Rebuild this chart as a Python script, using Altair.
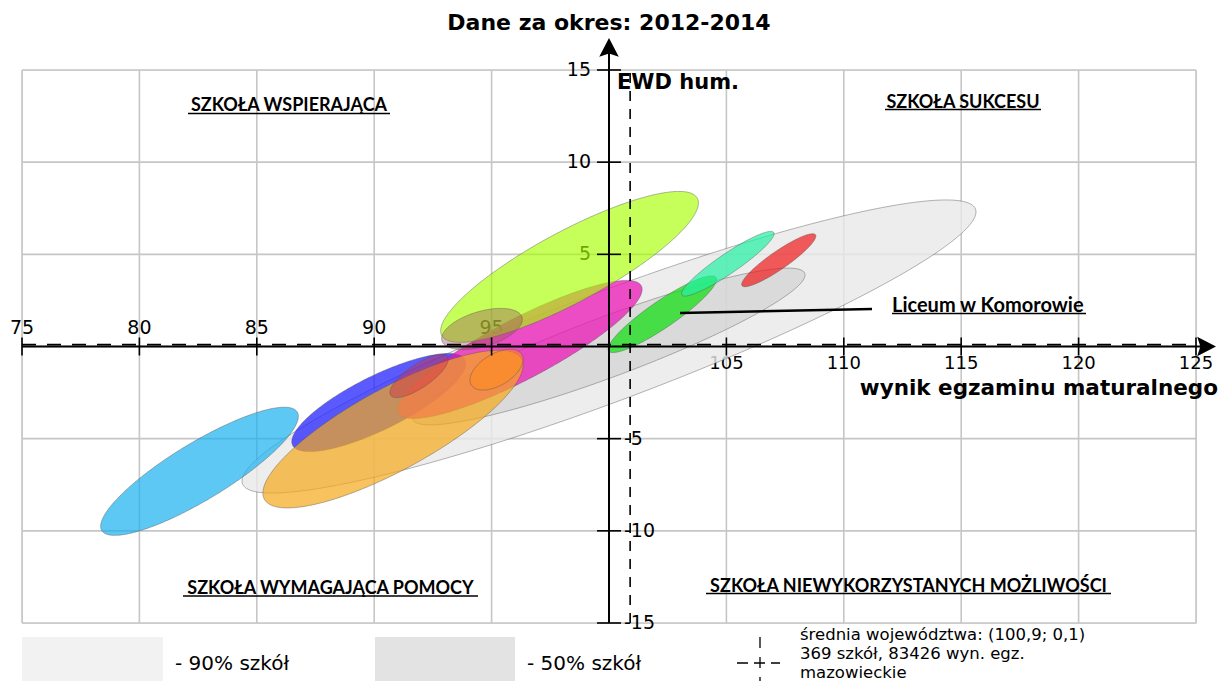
import numpy as np
import pandas as pd
import altair as alt

# ---------------- data ----------------
x_grid = [75, 80, 85, 90, 95, 100, 105, 110, 115, 120, 125]
y_grid = [-15, -10, -5, 0, 5, 10, 15]
x_labels_above = [75, 80, 85, 90, 95]
x_labels_below = [105, 110, 115, 120, 125]
y_labels_pos = [5, 10, 15]
y_labels_neg = [-5, -10, -15]
mean_x = 100.9
mean_y = 0.1

# ellipses: centre (cx, cy), half extent along x (hx),
# y offset of the right-most point (ky), vertical half thickness at centre (my)
ell_names = ["90% szkół", "50% szkół", "szkoła 1", "szkoła 2", "szkoła 3", "szkoła 4",
             "szkoła 5", "szkoła 6", "szkoła 7", "szkoła 8", "Liceum w Komorowie",
             "szkoła 9", "szkoła 10"]
ell_cx = [100.0, 100.0, 82.56, 90.20, 96.21, 90.80, 98.32, 94.59, 95.21, 91.91, 102.27, 105.06, 107.23]
ell_cy = [0.0, 0.0, -6.77, -3.04, -0.16, -4.48, 4.32, 0.95, -1.26, -1.60, 1.75, 4.49, 4.68]
ell_hx = [15.63, 8.35, 4.21, 3.71, 5.20, 5.54, 5.49, 1.72, 1.13, 1.24, 2.31, 1.97, 1.58]
ell_ky = [7.30, 3.88, 2.98, 2.12, 3.26, 3.47, 3.47, 0.52, 0.56, 0.90, 1.89, 1.63, 1.31]
ell_my = [3.15, 1.74, 1.79, 1.61, 1.84, 2.50, 2.17, 0.99, 0.95, 0.75, 0.87, 0.65, 0.59]

# styles
ell_fill = ["#e8e8e8", "#c8c8c8", "#1ab0f1", "#2323ff", "#eb16b6", "#f5a91a", "#a8ff00",
            "#9a505c", "#ff8a20", "#d03040", "#16de16", "#22f1a2", "#f11a1a"]
ell_op = [0.8, 0.5, 0.7, 0.75, 0.75, 0.7, 0.65, 0.4, 0.6, 0.45, 0.75, 0.7, 0.7]

# ---------------- helpers ----------------
xs = alt.Scale(domain=[75, 125], nice=False, zero=False)
ys = alt.Scale(domain=[-15, 15], nice=False, zero=False)


def X(f):
    return alt.X(f, type="quantitative", scale=xs, axis=None)


def Y(f):
    return alt.Y(f, type="quantitative", scale=ys, axis=None)


layers = []

# grid
df_gx = pd.DataFrame({"v": x_grid, "lo": -15, "hi": 15})
df_gy = pd.DataFrame({"v": y_grid, "lo": 75, "hi": 125})
layers.append(alt.Chart(df_gx).mark_rule(color="#c6c6c6", strokeWidth=1.6)
              .encode(x=X("v"), y=Y("lo"), y2="hi:Q"))
layers.append(alt.Chart(df_gy).mark_rule(color="#c6c6c6", strokeWidth=1.6)
              .encode(y=Y("v"), x=X("lo"), x2="hi:Q"))

# tick labels (lie under the ellipses in the reference)
lab_font = "DejaVu Sans"
df_xa = pd.DataFrame({"v": x_labels_above, "z": 0, "lab": [str(v) for v in x_labels_above]})
df_xb = pd.DataFrame({"v": x_labels_below, "z": 0, "lab": [str(v) for v in x_labels_below]})
df_yp = pd.DataFrame({"v": y_labels_pos, "z": 100, "lab": [str(v) for v in y_labels_pos]})
df_yn = pd.DataFrame({"v": y_labels_neg, "z": 100, "lab": [str(v) for v in y_labels_neg]})
layers += [
    alt.Chart(df_xa).mark_text(align="center", baseline="alphabetic", dy=-13,
                               fontSize=19, font=lab_font, color="black")
    .encode(x=X("v"), y=Y("z"), text="lab:N"),
    alt.Chart(df_xb).mark_text(align="center", baseline="alphabetic", dy=22,
                               fontSize=18, font=lab_font, color="black")
    .encode(x=X("v"), y=Y("z"), text="lab:N"),
    alt.Chart(df_yp).mark_text(align="right", baseline="middle", dx=-18,
                               fontSize=19, font=lab_font, color="black")
    .encode(x=X("z"), y=Y("v"), text="lab:N"),
    alt.Chart(df_yn).mark_text(align="left", baseline="middle", dx=15,
                               fontSize=19, font=lab_font, color="black")
    .encode(x=X("z"), y=Y("v"), text="lab:N"),
]

# ellipses
t = np.linspace(0, np.pi, 181)
for i, name in enumerate(ell_names):
    c, s = np.cos(t), np.sin(t)
    d = pd.DataFrame({
        "name": name,
        "x": ell_cx[i] + ell_hx[i] * c,
        "y": ell_cy[i] + ell_ky[i] * c + ell_my[i] * s,
        "y2": ell_cy[i] + ell_ky[i] * c - ell_my[i] * s,
    })
    layers.append(
        alt.Chart(d).mark_area(
            fill=ell_fill[i], fillOpacity=ell_op[i],
            stroke="#555555", strokeWidth=0.8, strokeOpacity=0.55,
        ).encode(x=X("x"), y=Y("y"), y2="y2:Q")
    )

# mean (dashed) lines
df_mean = pd.DataFrame({"mx": [mean_x], "my": [mean_y], "lo_x": [75], "hi_x": [125],
                        "lo_y": [-15], "hi_y": [15]})
layers.append(alt.Chart(df_mean).mark_rule(color="black", strokeWidth=1.6, strokeDash=[10, 8])
              .encode(x=X("mx"), y=Y("lo_y"), y2="hi_y:Q"))
layers.append(alt.Chart(df_mean).mark_rule(color="black", strokeWidth=1.6, strokeDash=[14, 11])
              .encode(x=X("lo_x"), x2="hi_x:Q", y=Y("my")))

# main axes crossing at (100, 0)
df_ax = pd.DataFrame({"x0": [75], "y0": [0], "xc": [100], "yb": [-15]})
layers.append(alt.Chart(df_ax).mark_rule(color="black", strokeWidth=2)
              .encode(x=X("x0"), x2=alt.value(1190), y=Y("y0")))
layers.append(alt.Chart(df_ax).mark_rule(color="black", strokeWidth=2)
              .encode(x=X("xc"), y=Y("yb"), y2=alt.value(-29)))
arrow = "M0,-1L0.75,0.45L0,0.2L-0.75,0.45Z"
layers.append(alt.Chart(df_ax).mark_point(shape=arrow, filled=True, color="black", opacity=1,
                                          size=676)
              .encode(x=X("xc"), y=alt.value(-19)))
layers.append(alt.Chart(df_ax).mark_point(shape=arrow, filled=True, color="black", opacity=1,
                                          size=676, angle=90)
              .encode(x=alt.value(1181), y=Y("y0")))

# ticks
df_xt = pd.DataFrame({"v": x_labels_above + x_labels_below, "z": 0})
df_yt = pd.DataFrame({"v": y_labels_pos + y_labels_neg, "z": 100})
layers.append(alt.Chart(df_xt).mark_tick(orient="vertical", size=18, thickness=1.6, color="black",
                                         opacity=1)
              .encode(x=X("v"), y=Y("z")))
layers.append(alt.Chart(df_yt).mark_tick(orient="horizontal", size=24, thickness=1.6, color="black",
                                         opacity=1)
              .encode(x=X("z"), y=Y("v")))


# ---------------- annotations (pixel positions inside the plot) ----------------
def txt(text, px, py, size, weight="normal", align="left", font="DejaVu Sans"):
    return alt.Chart(pd.DataFrame({"t": [text]})).mark_text(
        align=align, baseline="alphabetic", fontSize=size, fontWeight=weight,
        font=font, color="black").encode(x=alt.value(px), y=alt.value(py), text="t:N")


def uline(x1, x2, py, w=1.5):
    return alt.Chart(pd.DataFrame({"a": [0]})).mark_rule(color="black", strokeWidth=w).encode(
        x=alt.value(x1), x2=alt.value(x2), y=alt.value(py))


layers += [
    txt("Dane za okres: 2012-2014", 587, -40, 22, "bold", "center"),
    txt("EWD hum.", 595, 19, 21, "bold"),
    txt("wynik egzaminu maturalnego", 1196, 325, 21.5, "bold", "right"),
    txt("SZKOŁA WSPIERAJĄCA", 267, 41, 18, "bold", "center", "Lato"),
    uline(166, 368, 43.5),
    txt("SZKOŁA SUKCESU", 941, 37.7, 18, "bold", "center", "Lato"),
    uline(863, 1019, 39.5),
    txt("SZKOŁA WYMAGAJĄCA POMOCY", 308.5, 524, 18, "bold", "center", "Lato"),
    uline(161, 456, 526),
    txt("SZKOŁA NIEWYKORZYSTANYCH MOŻLIWOŚCI", 886.5, 521.7, 18, "bold", "center", "Lato"),
    uline(684, 1089, 523.5),
    txt("Liceum w Komorowie", 870, 241.7, 20, "bold", "left", "Lato"),
    uline(870, 1064, 243.5),
]
# pointer line to the school ellipse
layers.append(alt.Chart(pd.DataFrame({"a": [0]})).mark_rule(color="black", strokeWidth=2.5)
              .encode(x=alt.value(658), y=alt.value(243), x2=alt.value(850), y2=alt.value(239)))

# legend
rect = lambda x1, x2, col: alt.Chart(pd.DataFrame({"a": [0]})).mark_rect(color=col).encode(
    x=alt.value(x1), x2=alt.value(x2), y=alt.value(567), y2=alt.value(620))
layers += [
    rect(0, 141, "#f2f2f2"),
    txt("- 90% szkół", 153, 600, 20),
    rect(353, 493, "#e3e3e3"),
    txt("- 50% szkół", 505, 600, 20),
]
layers.append(alt.Chart(pd.DataFrame({"a": [0]})).mark_rule(color="black", strokeWidth=1.3,
                                                            strokeDash=[11, 9])
              .encode(x=alt.value(738), y=alt.value(567), y2=alt.value(620)))
layers.append(alt.Chart(pd.DataFrame({"a": [0]})).mark_rule(color="black", strokeWidth=1.3,
                                                            strokeDash=[11, 6])
              .encode(x=alt.value(715), x2=alt.value(758), y=alt.value(593)))
layers += [
    txt("średnia województwa: (100,9; 0,1)", 778, 570, 16.5),
    txt("369 szkół, 83426 wyn. egz.", 778, 589, 16.5),
    txt("mazowieckie", 778, 608, 16.5),
]

chart = alt.layer(*layers).properties(
    width=1174, height=553,
    padding={"left": 14, "top": 62, "right": 22, "bottom": 58},
    autosize=alt.AutoSizeParams(type="none"),
).configure_view(stroke=None).configure(background="white")

chart.save("out.html", embed_options={"renderer": "svg", "actions": False})
